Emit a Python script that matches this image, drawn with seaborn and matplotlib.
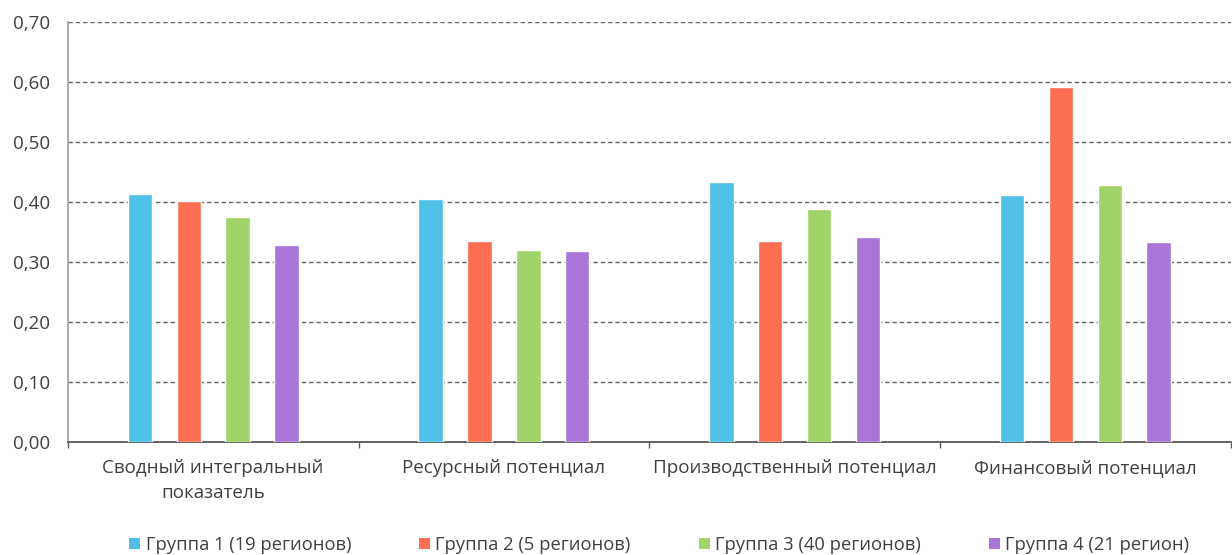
import matplotlib
matplotlib.use("Agg")
import matplotlib.pyplot as plt
import matplotlib.patches as mpatches
from matplotlib.ticker import FixedLocator, FuncFormatter
import pandas as pd
import seaborn as sns

# Indicator categories and group series
categories = [
    "Сводный интегральный\nпоказатель",
    "Ресурсный потенциал",
    "Производственный потенциал",
    "Финансовый потенциал",
]
groups = [
    "Группа 1 (19 регионов)",
    "Группа 2 (5 регионов)",
    "Группа 3 (40 регионов)",
    "Группа 4 (21 регион)",
]
group1 = [0.414, 0.405, 0.433, 0.411]
group2 = [0.402, 0.335, 0.335, 0.592]
group3 = [0.375, 0.320, 0.388, 0.428]
group4 = [0.329, 0.318, 0.342, 0.334]
colors = ["#4FC0E8", "#FC6E51", "#A0D468", "#AA75D6"]

rows = []
for g, vals in zip(groups, [group1, group2, group3, group4]):
    for c, v in zip(categories, vals):
        rows.append({"category": c, "group": g, "value": v})
df = pd.DataFrame(rows)

sns.set_theme(style="white")
plt.rcParams["font.family"] = ["Open Sans", "DejaVu Sans"]
text_color = "#404040"

fig = plt.figure(figsize=(12.32, 5.55), dpi=100)
ax = fig.add_axes([0.055, 0.203, 0.944, 0.758])

sns.barplot(
    data=df, x="category", y="value", hue="group",
    order=categories, hue_order=groups, palette=colors,
    width=0.672, gap=0.5, saturation=1, errorbar=None,
    ax=ax, legend=False, zorder=3,
)

ax.set_xlim(-0.5, len(categories) - 0.5)
ax.set_ylim(0, 0.70)
ax.set_yticks([i / 10 for i in range(8)])
ax.yaxis.set_major_formatter(FuncFormatter(lambda v, _: f"{v:.2f}".replace(".", ",")))
ax.set_xlabel("")
ax.set_ylabel("")

# Gridlines
ax.yaxis.grid(True, linestyle=(0, (3, 2)), color="#666666", linewidth=1.05, zorder=0)
ax.xaxis.grid(False)
ax.set_axisbelow(True)

# Spines
for s in ["top", "right"]:
    ax.spines[s].set_visible(False)
ax.spines["left"].set_color("#a6a6a6")
ax.spines["left"].set_linewidth(1.3)
ax.spines["bottom"].set_color("#595959")
ax.spines["bottom"].set_linewidth(1.3)

# Ticks
ax.tick_params(axis="y", length=4.5, width=1.0, color="#808080",
               labelsize=13.5, labelcolor=text_color, pad=8)
ax.tick_params(axis="x", which="major", length=0, labelsize=13.5,
               labelcolor=text_color, pad=12)
ax.xaxis.set_minor_locator(FixedLocator([i - 0.5 for i in range(len(categories) + 1)]))
ax.tick_params(axis="x", which="minor", length=4, width=1.0, color="#595959",
               bottom=True)
for lbl in ax.get_xticklabels():
    lbl.set_linespacing(1.5)

handles = [mpatches.Patch(facecolor=c, edgecolor="none", label=g)
           for c, g in zip(colors, groups)]
fig.legend(
    handles=handles, loc="center", bbox_to_anchor=(0.535, 0.018), ncol=4,
    frameon=False, fontsize=13.2, labelcolor=text_color,
    handlelength=0.6, handleheight=0.6, handletextpad=0.3, columnspacing=3.7,
)

fig.savefig("out.png", dpi=100, facecolor="white")
